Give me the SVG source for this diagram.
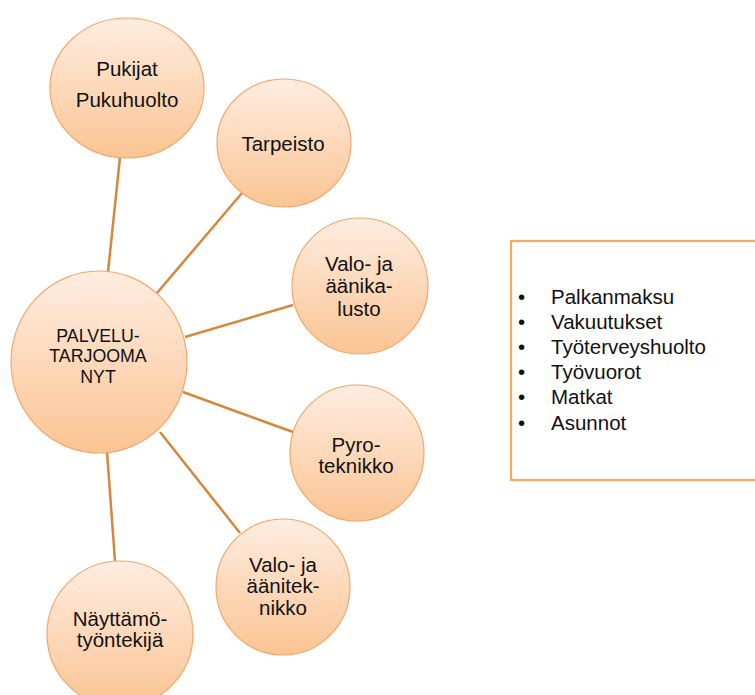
<svg xmlns="http://www.w3.org/2000/svg" width="755" height="695" viewBox="0 0 755 695">
<style>
  .node { fill: url(#g); stroke: #F3A66A; stroke-width: 1.2; }
  .lbl { font-family: "Liberation Sans", Arial, sans-serif; font-size: 20.5px; fill: #111; text-anchor: middle; }
  .clbl { font-size: 17.8px; }
  .conn line { stroke: #D4883B; stroke-width: 2.5; }
  .list { font-family: "Liberation Sans", Arial, sans-serif; font-size: 20.5px; fill: #111; }
</style>
<defs>
  <linearGradient id="g" x1="0" y1="0" x2="0" y2="1">
    <stop offset="0" stop-color="#FEEDE1"/>
    <stop offset="1" stop-color="#FBC493"/>
  </linearGradient>
</defs>
<rect width="755" height="695" fill="#fff"/>
<g id="connectors" class="conn">
  <line x1="120" y1="157" x2="108" y2="272"/>
  <line x1="242" y1="193" x2="157" y2="293"/>
  <line x1="293" y1="305" x2="185" y2="337"/>
  <line x1="183" y1="392" x2="293" y2="432"/>
  <line x1="160" y1="432" x2="240" y2="533"/>
  <line x1="107" y1="452" x2="115" y2="561"/>
</g>
<g id="n-center">
  <ellipse class="node" cx="99" cy="362" rx="88" ry="91"/>
  <text class="lbl clbl"><tspan x="98" y="342">PALVELU-</tspan><tspan x="98" y="362">TARJOOMA</tspan><tspan x="98" y="383">NYT</tspan></text>
</g>
<g id="n-pukijat">
  <ellipse class="node" cx="127" cy="88" rx="77" ry="70"/>
  <text class="lbl"><tspan x="127" y="76">Pukijat</tspan><tspan x="127" y="107">Pukuhuolto</tspan></text>
</g>
<g id="n-tarpeisto">
  <ellipse class="node" cx="284" cy="143" rx="67" ry="64"/>
  <text class="lbl" x="283" y="151">Tarpeisto</text>
</g>
<g id="n-kalusto">
  <ellipse class="node" cx="360" cy="286" rx="68" ry="68"/>
  <text class="lbl"><tspan x="359" y="271">Valo- ja</tspan><tspan x="359" y="293">äänika-</tspan><tspan x="359" y="316">lusto</tspan></text>
</g>
<g id="n-pyro">
  <ellipse class="node" cx="357" cy="453" rx="67" ry="68"/>
  <text class="lbl"><tspan x="356" y="452">Pyro-</tspan><tspan x="356" y="473">teknikko</tspan></text>
</g>
<g id="n-tekniikko">
  <ellipse class="node" cx="283" cy="587" rx="67" ry="68"/>
  <text class="lbl"><tspan x="283" y="572">Valo- ja</tspan><tspan x="283" y="593">äänitek-</tspan><tspan x="283" y="615">nikko</tspan></text>
</g>
<g id="n-nayttamo">
  <ellipse class="node" cx="120" cy="634" rx="73" ry="73"/>
  <text class="lbl"><tspan x="120" y="626">Näyttämö-</tspan><tspan x="120" y="647">työntekijä</tspan></text>
</g>
<g id="n-list">
  <rect x="511" y="241" width="250" height="239" fill="#fff" stroke="#F9A95E" stroke-width="2.2"/>
  <text class="list">
    <tspan x="518" y="304">•</tspan><tspan x="551" y="304">Palkanmaksu</tspan>
    <tspan x="518" y="329">•</tspan><tspan x="551" y="329">Vakuutukset</tspan>
    <tspan x="518" y="354">•</tspan><tspan x="551" y="354">Työterveyshuolto</tspan>
    <tspan x="518" y="379">•</tspan><tspan x="551" y="379">Työvuorot</tspan>
    <tspan x="518" y="404">•</tspan><tspan x="551" y="404">Matkat</tspan>
    <tspan x="518" y="430">•</tspan><tspan x="551" y="430">Asunnot</tspan>
  </text>
</g>
</svg>
